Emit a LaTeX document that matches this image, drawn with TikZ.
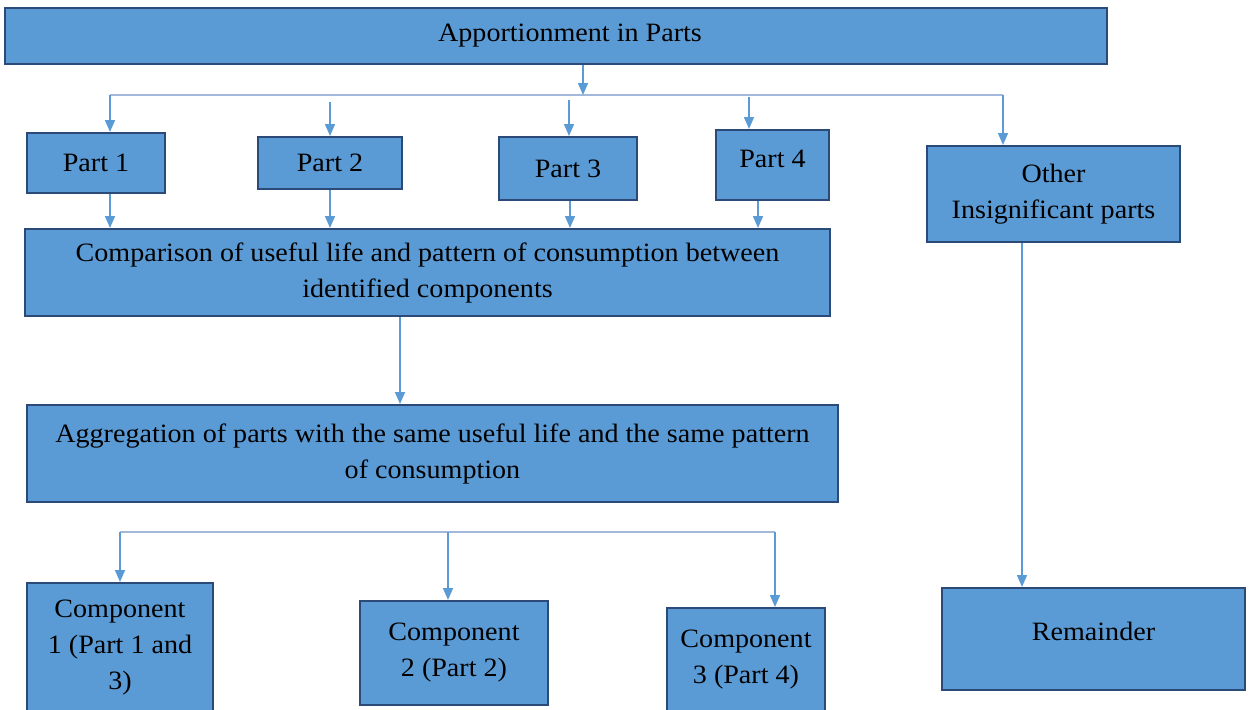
\documentclass[tikz,border=0pt]{standalone}
\usepackage{fontspec}
\setmainfont{Liberation Serif}[FakeStretch=1.06]
\usetikzlibrary{arrows.meta}
\definecolor{boxfill}{HTML}{5B9BD5}
\definecolor{boxdraw}{HTML}{2B4A78}
\definecolor{arr}{HTML}{5B9BD5}
\definecolor{busc}{HTML}{A3B8DA}
\tikzset{
 box/.style={draw=boxdraw, fill=boxfill, line width=2pt, align=center, inner sep=0pt,
   font=\fontsize{26.5}{36}\selectfont, text=black},
 arrow/.style={draw=arr, line width=1.6pt, -{Triangle[length=12pt,width=10pt]}},
 busline/.style={draw=busc, line width=2pt},
}
\begin{document}
\begin{tikzpicture}[x=1pt,y=-1pt]
\clip (0,0) rectangle (1249,709);
\useasboundingbox (0,0) rectangle (1249,709);
% boxes
\node[box, minimum width=1102, minimum height=56] (top) at (556,36) {\hspace*{28pt}Apportionment in Parts};
\node[box, minimum width=138, minimum height=60] (p1) at (96,163) {Part 1};
\node[box, minimum width=144, minimum height=52] (p2) at (330,163) {Part 2};
\node[box, minimum width=138, minimum height=63] (p3) at (568,168.5) {Part 3};
\node[box, minimum width=113, minimum height=70] (p4) at (772.5,165) {\raisebox{12pt}{Part 4}};
\node[box, minimum width=253, minimum height=96] (oth) at (1053.5,194) {Other\\Insignificant parts};
\node[box, minimum width=805, minimum height=87] (cmp) at (427.5,272.5) {Comparison of useful life and pattern of consumption between\\identified components};
\node[box, minimum width=811, minimum height=97] (agg) at (432.5,453.5) {Aggregation of parts with the same useful life and the same pattern\\of consumption};
\node[box, minimum width=186, minimum height=129] (c1) at (120,647.5) {Component\\1 (Part 1 and\\3)};
\node[box, minimum width=188, minimum height=104] (c2) at (454,653) {Component\\2 (Part 2)};
\node[box, minimum width=158, minimum height=104] (c3) at (746,660) {Component\\3 (Part 4)};
\node[box, minimum width=303, minimum height=102] (rem) at (1093.5,639) {\raisebox{16pt}{Remainder}};
% top bus
\coordinate (t0) at (583,95);
\coordinate (bl) at (110,95);
\coordinate (br) at (1003,95);
\draw[busline] (bl) -- (br);
\draw[arrow] (top.south -| t0) -- (t0);
\draw[arrow] (bl) -- (bl |- p1.north);
\draw[arrow] (br) -- (br |- oth.north);
\coordinate (s2) at (330,102);
\coordinate (s3) at (569,100);
\coordinate (s4) at (749,97);
\draw[arrow] (s2) -- (s2 |- p2.north);
\draw[arrow] (s3) -- (s3 |- p3.north);
\draw[arrow] (s4) -- (s4 |- p4.north);
% parts to comparison
\coordinate (d1) at (110,0);
\coordinate (d2) at (330,0);
\coordinate (d3) at (570,0);
\coordinate (d4) at (758,0);
\draw[arrow] (p1.south -| d1) -- (cmp.north -| d1);
\draw[arrow] (p2.south -| d2) -- (cmp.north -| d2);
\draw[arrow] (p3.south -| d3) -- (cmp.north -| d3);
\draw[arrow] (p4.south -| d4) -- (cmp.north -| d4);
% comparison to aggregation
\coordinate (e1) at (400,0);
\draw[arrow] (cmp.south -| e1) -- (agg.north -| e1);
% bottom bus
\coordinate (ql) at (120,532);
\coordinate (qm) at (448,532);
\coordinate (qr) at (775,532);
\draw[busline] (ql) -- (qr);
\draw[arrow] (ql) -- (ql |- c1.north);
\draw[arrow] (qm) -- (qm |- c2.north);
\draw[arrow] (qr) -- (qr |- c3.north);
% other to remainder
\coordinate (r1) at (1022,0);
\draw[arrow] (oth.south -| r1) -- (rem.north -| r1);
\end{tikzpicture}
\end{document}
